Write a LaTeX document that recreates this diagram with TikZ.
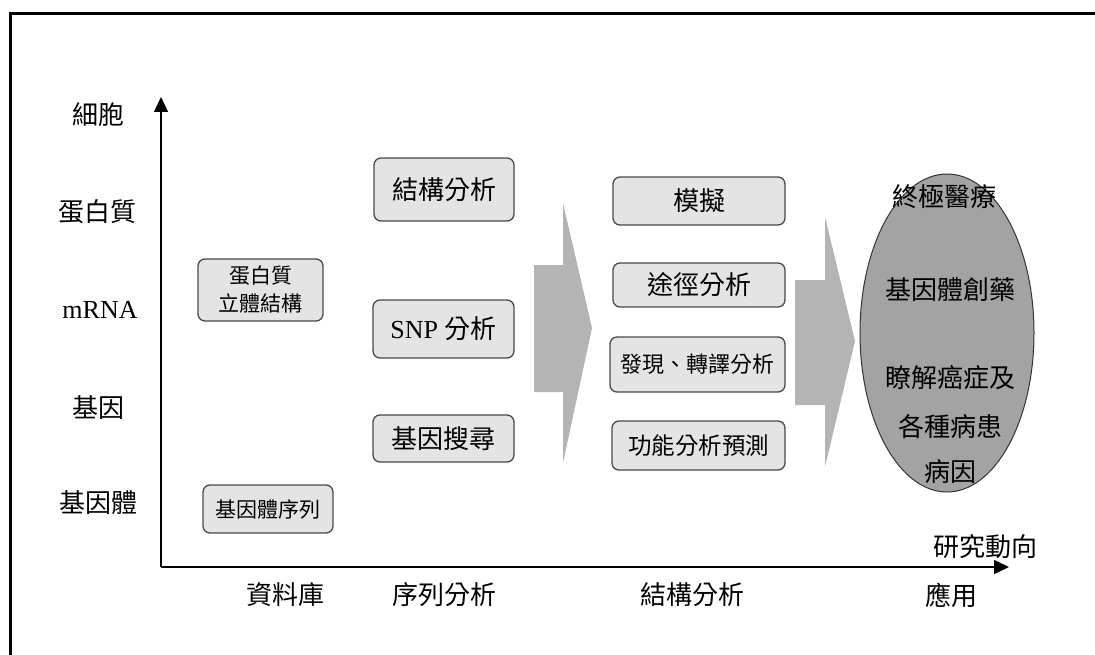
\documentclass[tikz,border=0pt]{standalone}
\usepackage{fontspec}
\setmainfont{Liberation Serif}
\newfontfamily\cjk{Noto Sans CJK TC}
\usetikzlibrary{arrows.meta,shapes.geometric}
\definecolor{boxfill}{HTML}{E4E4E4}
\definecolor{boxline}{HTML}{4A4A4A}
\definecolor{arrowgray}{HTML}{B4B4B4}
\definecolor{ellgray}{HTML}{A3A3A3}
\begin{document}
\begin{tikzpicture}[x=1bp,y=-1bp,
  box/.style={draw=boxline, fill=boxfill, rounded corners=7bp, line width=1.3bp, inner sep=0pt, align=center, font=\cjk\fontsize{26bp}{30bp}\selectfont},
  lab/.style={inner sep=0pt, font=\cjk\fontsize{26bp}{30bp}\selectfont},
  etext/.style={inner sep=0pt, font=\cjk\fontsize{26bp}{30bp}\selectfont},
  axisline/.style={line width=1.4bp, -{Triangle[length=15bp,width=14bp]}},
  bigarrow/.style={fill=arrowgray, draw=none}]
\useasboundingbox (0,0) rectangle (1095,655);
% frame (open on the right and bottom)
\coordinate (frTR) at (1095,14);
\coordinate (frTL) at (10,14);
\coordinate (frBL) at (10,655);
\draw[line width=3bp] (frTR) -- (frTL) -- (frBL);
% axes
\coordinate (O) at (161,567);
\coordinate (ytip) at (161,97);
\coordinate (xtip) at (1009,567);
\draw[axisline] (O) -- (ytip);
\draw[axisline] (O) -- (xtip);
% y labels
\node[lab] (y1) at (98,115) {細胞};
\node[lab] (y2) at (97,212) {蛋白質};
\node[inner sep=0pt, font=\fontsize{26bp}{30bp}\selectfont] (y3) at (100,310) {mRNA};
\node[lab] (y4) at (98,408) {基因};
\node[lab] (y5) at (98,503) {基因體};
% x labels
\node[lab] (x1) at (285,595) {資料庫};
\node[lab] (x2) at (444,595) {序列分析};
\node[lab] (x3) at (692,595) {結構分析};
\node[lab] (x4) at (951,595) {應用};
\node[lab] (xt) at (985,547) {研究動向};
% column 1
\node[box, minimum width=125bp, minimum height=62bp, font=\cjk\fontsize{21bp}{28bp}\selectfont] (p3d) at (260.5,290) {蛋白質\\立體結構};
\node[box, minimum width=130bp, minimum height=48bp, font=\cjk\fontsize{21bp}{26bp}\selectfont] (gseq) at (268,509) {基因體序列};
% column 2
\node[box, minimum width=140bp, minimum height=63bp] (s1) at (444,189.5) {結構分析};
\node[box, minimum width=141bp, minimum height=58bp] (snp) at (443.5,329) {\fontspec{Liberation Serif}SNP \cjk 分析};
\node[box, minimum width=141bp, minimum height=47bp] (gs) at (443.5,438.5) {基因搜尋};
% big arrows
\draw[bigarrow] (534,265) -- (563,265) -- (563,203) -- (592,328) -- (563,463) -- (563,392) -- (534,392) -- cycle;
\draw[bigarrow] (795,280) -- (825,280) -- (825,217) -- (855,341) -- (825,467) -- (825,405) -- (795,405) -- cycle;
% column 3
\node[box, minimum width=172bp, minimum height=48bp] (sim) at (699,201) {模擬};
\node[box, minimum width=172bp, minimum height=44bp] (path) at (699,285) {途徑分析};
\node[box, minimum width=175bp, minimum height=55bp, font=\cjk\fontsize{22bp}{26bp}\selectfont] (expr) at (697.5,364.5) {發現、轉譯分析};
\node[box, minimum width=173bp, minimum height=49bp, font=\cjk\fontsize{23.5bp}{26bp}\selectfont] (func) at (698.5,445.5) {功能分析預測};
% ellipse
\node[ellipse, draw=black!80, line width=1bp, fill=ellgray, minimum width=174bp, minimum height=318bp, inner sep=0pt] (app) at (947,333) {};
\node[etext] (e1) at (944,197) {終極醫療};
\node[etext] (e2) at (950,290) {基因體創藥};
\node[etext] (e3) at (950,378) {瞭解癌症及};
\node[etext] (e4) at (950,427) {各種病患};
\node[etext] (e5) at (950,472) {病因};
\end{tikzpicture}
\end{document}
